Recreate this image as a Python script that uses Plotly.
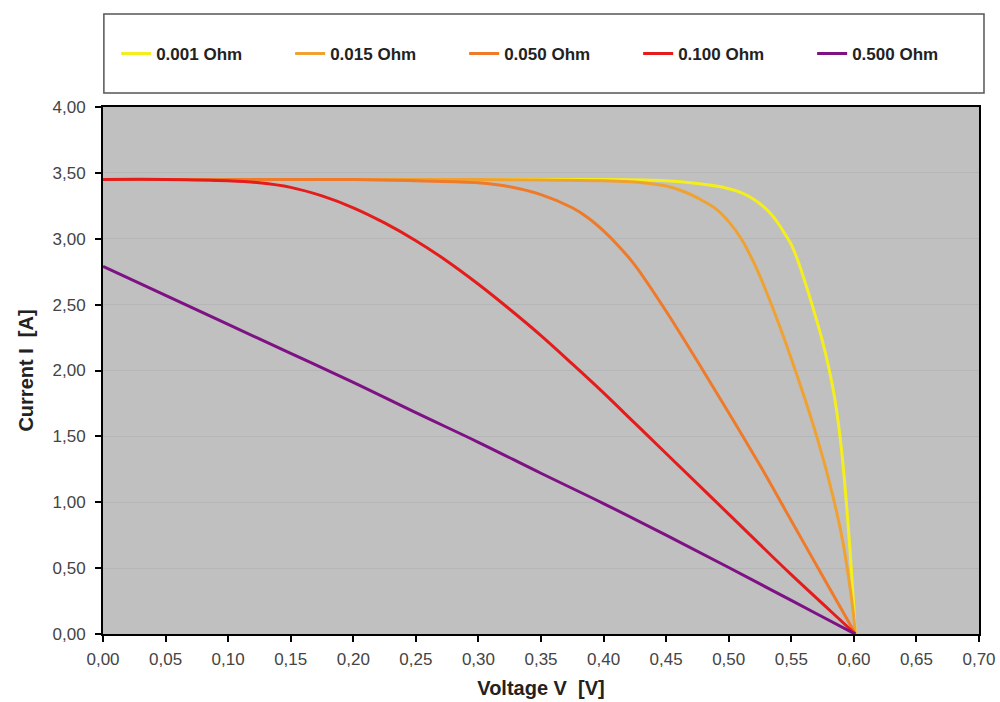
import plotly.graph_objects as go

# ---- data ----
series_names = ["0.001 Ohm", "0.015 Ohm", "0.050 Ohm", "0.100 Ohm", "0.500 Ohm"]
series_colors = ["#F4EE1C", "#EFA232", "#EE7A2A", "#E51C1C", "#7E1285"]

v_001 = [0.0, 0.10, 0.20, 0.30, 0.40, 0.45, 0.475, 0.49, 0.50, 0.51, 0.52, 0.53, 0.535, 0.54,
         0.545, 0.55, 0.555, 0.56, 0.565, 0.57, 0.575, 0.58, 0.585, 0.59, 0.595, 0.60, 0.601]
i_001 = [3.45, 3.45, 3.45, 3.45, 3.45, 3.44, 3.42, 3.40, 3.38, 3.35, 3.30, 3.225, 3.175, 3.11,
         3.035, 2.955, 2.84, 2.70, 2.55, 2.39, 2.22, 2.02, 1.77, 1.41, 0.88, 0.20, 0.0]

v_015 = [0.0, 0.10, 0.20, 0.30, 0.40, 0.425, 0.45, 0.465, 0.475, 0.49, 0.50, 0.51, 0.52, 0.53,
         0.54, 0.55, 0.56, 0.57, 0.58, 0.59, 0.595, 0.60, 0.601]
i_015 = [3.45, 3.45, 3.45, 3.45, 3.44, 3.43, 3.40, 3.355, 3.31, 3.225, 3.13, 3.00, 2.82, 2.60,
         2.355, 2.09, 1.81, 1.51, 1.17, 0.76, 0.48, 0.12, 0.0]

v_050 = [0.0, 0.10, 0.20, 0.25, 0.30, 0.325, 0.35, 0.375, 0.3875, 0.40, 0.4125, 0.425, 0.45,
         0.475, 0.50, 0.525, 0.55, 0.575, 0.60, 0.601]
i_050 = [3.45, 3.45, 3.45, 3.44, 3.425, 3.395, 3.335, 3.235, 3.16, 3.06, 2.94, 2.80, 2.45,
         2.07, 1.68, 1.28, 0.86, 0.44, 0.02, 0.0]

v_100 = [0.0, 0.05, 0.10, 0.125, 0.15, 0.175, 0.20, 0.225, 0.25, 0.275, 0.30, 0.325, 0.35,
         0.375, 0.40, 0.425, 0.45, 0.50, 0.55, 0.60, 0.601]
i_100 = [3.45, 3.45, 3.44, 3.425, 3.39, 3.325, 3.235, 3.12, 2.985, 2.83, 2.655, 2.465, 2.265,
         2.05, 1.83, 1.60, 1.37, 0.91, 0.45, 0.01, 0.0]

v_500 = [0.0, 0.05, 0.10, 0.15, 0.20, 0.25, 0.30, 0.35, 0.40, 0.45, 0.50, 0.55, 0.60, 0.601]
i_500 = [2.79, 2.57, 2.35, 2.13, 1.91, 1.68, 1.455, 1.22, 0.99, 0.75, 0.505, 0.255, 0.005, 0.0]

voltages = [v_001, v_015, v_050, v_100, v_500]
currents = [i_001, i_015, i_050, i_100, i_500]

x_ticks = [round(0.05 * k, 2) for k in range(15)]
y_ticks = [round(0.5 * k, 2) for k in range(9)]

fig = go.Figure()
for name, col, vx, iy in zip(series_names, series_colors, voltages, currents):
    fig.add_trace(go.Scatter(x=vx, y=iy, mode="lines", name=name,
                             line=dict(color=col, width=3, shape="spline", smoothing=1.0)))

fig.update_layout(
    width=1000, height=702,
    margin=dict(l=103, r=21, t=107, b=68),
    paper_bgcolor="white",
    plot_bgcolor="#C0C0C0",
    separators=",.",
    font=dict(family="Liberation Sans, Arial, sans-serif", size=17, color="#444444"),
    showlegend=True,
    legend=dict(
        orientation="h", x=0.015, xanchor="left", y=1.1006, yanchor="middle",
        entrywidth=129, entrywidthmode="pixels",
        font=dict(size=17, color="#222222", weight="bold"),
        bgcolor="rgba(0,0,0,0)", borderwidth=0,
        itemwidth=30,
    ),
    shapes=[dict(type="rect", xref="paper", yref="paper",
                 x0=0.001, x1=1.0057, y0=1.0266, y1=1.1765,
                 line=dict(color="#555555", width=1.5), fillcolor="rgba(0,0,0,0)",
                 layer="below")],
)

fig.update_xaxes(
    range=[0, 0.70], tickvals=x_ticks, tickformat=".2f",
    automargin=False,
    showgrid=False, zeroline=False,
    showline=True, linecolor="black", linewidth=2, mirror=True,
    ticks="outside", ticklen=6, tickwidth=2, tickcolor="black",
    ticklabelstandoff=3,
    tickfont=dict(size=17, color="#444444"),
    title=dict(text="Voltage V  [V]", standoff=13,
               font=dict(size=20, color="#222222", weight="bold")),
)
fig.update_yaxes(
    range=[0, 4.0], tickvals=y_ticks, tickformat=".2f",
    automargin=False,
    showgrid=True, gridcolor="#B6B6B6", gridwidth=1, zeroline=False,
    showline=True, linecolor="black", linewidth=2, mirror=True,
    ticks="outside", ticklen=6, tickwidth=2, tickcolor="black",
    ticklabelstandoff=6,
    tickfont=dict(size=17, color="#444444"),
    title=dict(text="Current I  [A]", standoff=14,
               font=dict(size=20, color="#222222", weight="bold")),
)

fig.write_html("out.html")
